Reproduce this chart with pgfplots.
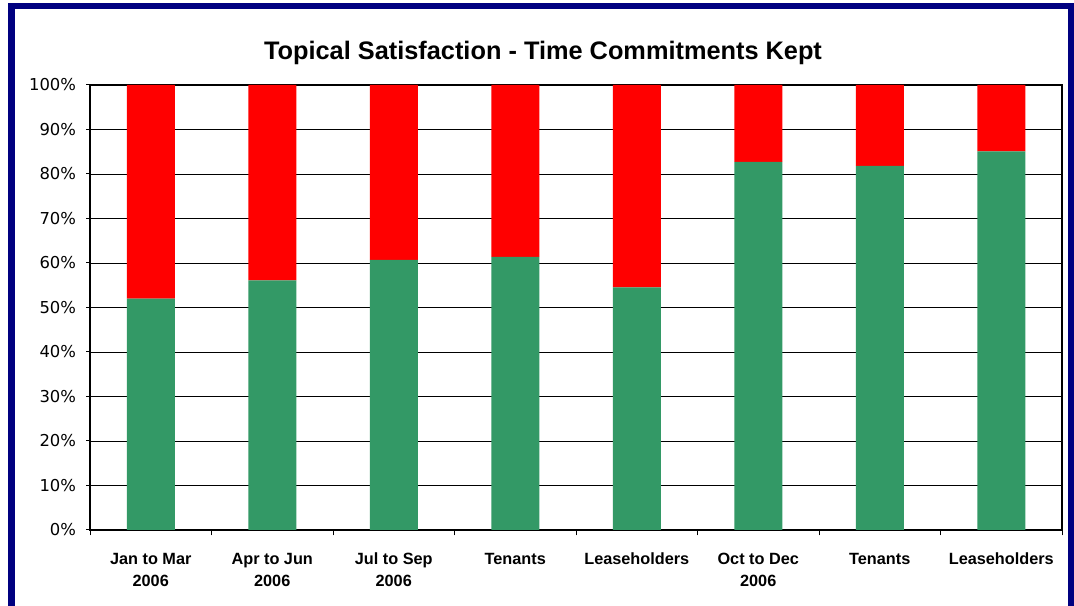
\documentclass[border=0pt]{standalone}
\usepackage{fontspec}
\setmainfont{Liberation Sans}
\newfontfamily\tickfont{DejaVu Sans}
\usepackage{pgfplots}
\pgfplotsset{compat=1.18}
\definecolor{kept}{HTML}{339966}
\definecolor{notkept}{HTML}{FF0000}
\definecolor{frame}{HTML}{000080}

\begin{document}
\begin{tikzpicture}[x=0.75pt,y=0.75pt]
\useasboundingbox (0,0) rectangle (1074,606);
\fill[white] (0,0) rectangle (1074,606);
% navy frame (bottom edge cut off)
\fill[frame] (8,0) rectangle (15,603);
\fill[frame] (8,597) rectangle (1074,603);
\fill[frame] (1068,0) rectangle (1074,603);
\node[font=\bfseries\fontsize{19}{22}\selectfont] at (543,553) {Topical Satisfaction - Time Commitments Kept};
\begin{axis}[
    at={(67.5pt,57pt)}, anchor=south west,
    scale only axis,
    width=729pt, height=333.75pt,
    ybar stacked,
    bar width=36pt,
    xmin=0.5, xmax=8.5,
    ymin=0, ymax=100,
    tick pos=left,
    xtick={1,...,8},
    xticklabels={{\strut Jan to Mar\\2006},{\strut Apr to Jun\\2006},{\strut Jul to Sep\\2006},\strut Tenants,\strut Leaseholders,{\strut Oct to Dec\\2006},\strut Tenants,\strut Leaseholders},
    xticklabel style={align=center,font=\bfseries\fontsize{12.2}{16}\selectfont,anchor=north,yshift=-8.5pt},
    major x tick style={draw=none},
    minor xtick={0.5,1.5,...,8.5},
    minor tick length=4pt,
    ytick={0,10,...,100},
    yticklabels={0\%,10\%,20\%,30\%,40\%,50\%,60\%,70\%,80\%,90\%,100\%},
    yticklabel style={font=\tickfont\fontsize{12.3}{14}\selectfont,xshift=-4pt},
    major tick length=3pt,
    tick align=outside,
    tick style={black,line width=0.75pt},
    ymajorgrids,
    grid style={black,line width=0.7pt},
    axis line style={black,line width=0.9pt},
    clip=false,
]
\addplot[fill=kept,draw=none] coordinates {(1,52.0) (2,56.1) (3,60.7) (4,61.4) (5,54.5) (6,82.7) (7,81.8) (8,85.1)};
\addplot[fill=notkept,draw=none] coordinates {(1,48.0) (2,43.9) (3,39.3) (4,38.6) (5,45.5) (6,17.3) (7,18.2) (8,14.9)};
\end{axis}
\end{tikzpicture}
\end{document}
